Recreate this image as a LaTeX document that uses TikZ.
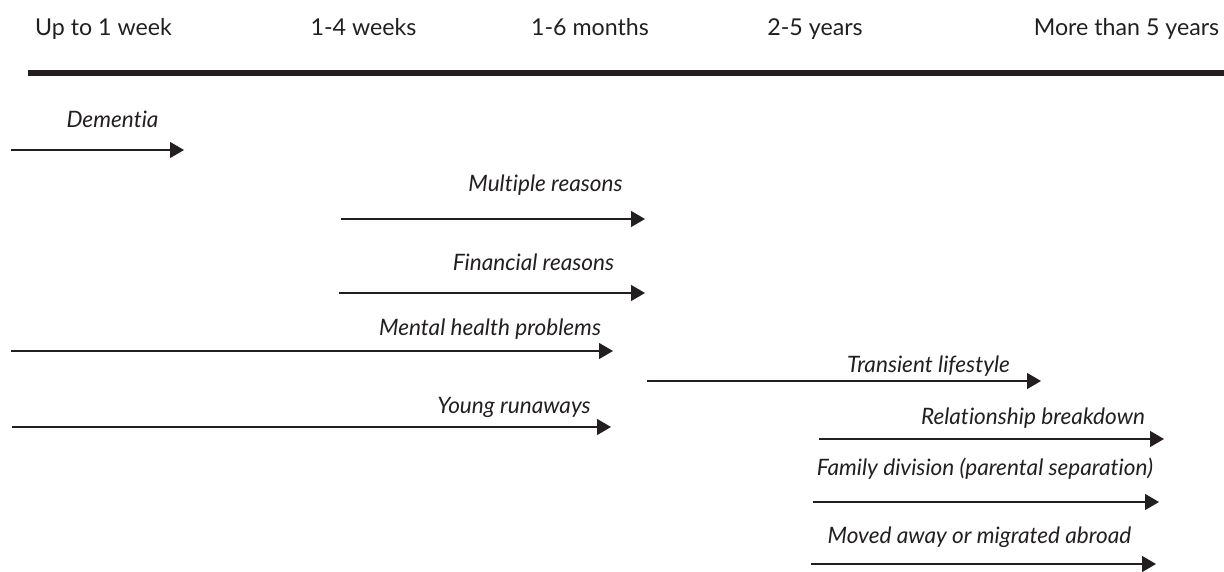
\documentclass[tikz,border=0pt]{standalone}
\usepackage{fontspec}
\setmainfont{Lato}[Ligatures=NoCommon]
\usetikzlibrary{arrows.meta}
\definecolor{ink}{HTML}{231F20}
\tikzset{
  hdr/.style={anchor=base, inner sep=0pt, text=ink, font=\fontsize{23.2}{27}\selectfont},
  lbl/.style={anchor=base, inner sep=0pt, text=ink, font=\fontsize{22.6}{27}\selectfont\itshape},
  arr/.style={draw=ink, line width=1.4pt, -{Triangle[length=14pt,width=16pt]}},
  axis/.style={draw=ink, line width=5.5pt}
}
\begin{document}
\begin{tikzpicture}[x=1pt,y=-1pt]
\useasboundingbox (0,0) rectangle (1224,572);
% headers
\node[hdr] (h1) at (103.5,36) {Up to 1 week};
\node[hdr] (h2) at (363.5,36) {1-4 weeks};
\node[hdr] (h3) at (590,36) {1-6 months};
\node[hdr] (h4) at (815,36) {2-5 years};
\node[hdr] (h5) at (1126.5,36) {More than 5 years};
\coordinate (axL) at (28,73);
\coordinate (axR) at (1224,73);
\draw[axis] (axL) -- (axR);
% labels
\node[lbl] (l1) at (112.5,128) {Dementia};
\node[lbl] (l2) at (545.5,192) {Multiple reasons};
\node[lbl] (l3) at (533.5,270) {Financial reasons};
\node[lbl] (l4) at (490,335) {Mental health problems};
\node[lbl] (l5) at (928.5,372) {Transient lifestyle};
\node[lbl] (l6) at (514,413) {Young runaways};
\node[lbl] (l7) at (1033,424) {Relationship breakdown};
\node[lbl] (l8) at (985,475) {Family division (parental separation)};
\node[lbl] (l9) at (979.5,543) {Moved away or migrated abroad};
% arrows
\coordinate (s1) at (11,150);  \coordinate (e1) at (184,150);
\coordinate (s2) at (341,219); \coordinate (e2) at (645,219);
\coordinate (s3) at (339,293); \coordinate (e3) at (645,293);
\coordinate (s4) at (11,351);  \coordinate (e4) at (613,351);
\coordinate (s5) at (647,381); \coordinate (e5) at (1041,381);
\coordinate (s6) at (12,427);  \coordinate (e6) at (611,427);
\coordinate (s7) at (819,439); \coordinate (e7) at (1164,439);
\coordinate (s8) at (813,502); \coordinate (e8) at (1159,502);
\coordinate (s9) at (811,564); \coordinate (e9) at (1156,564);
\foreach \i in {1,...,9} { \draw[arr] (s\i) -- (e\i); }
\end{tikzpicture}
\end{document}
